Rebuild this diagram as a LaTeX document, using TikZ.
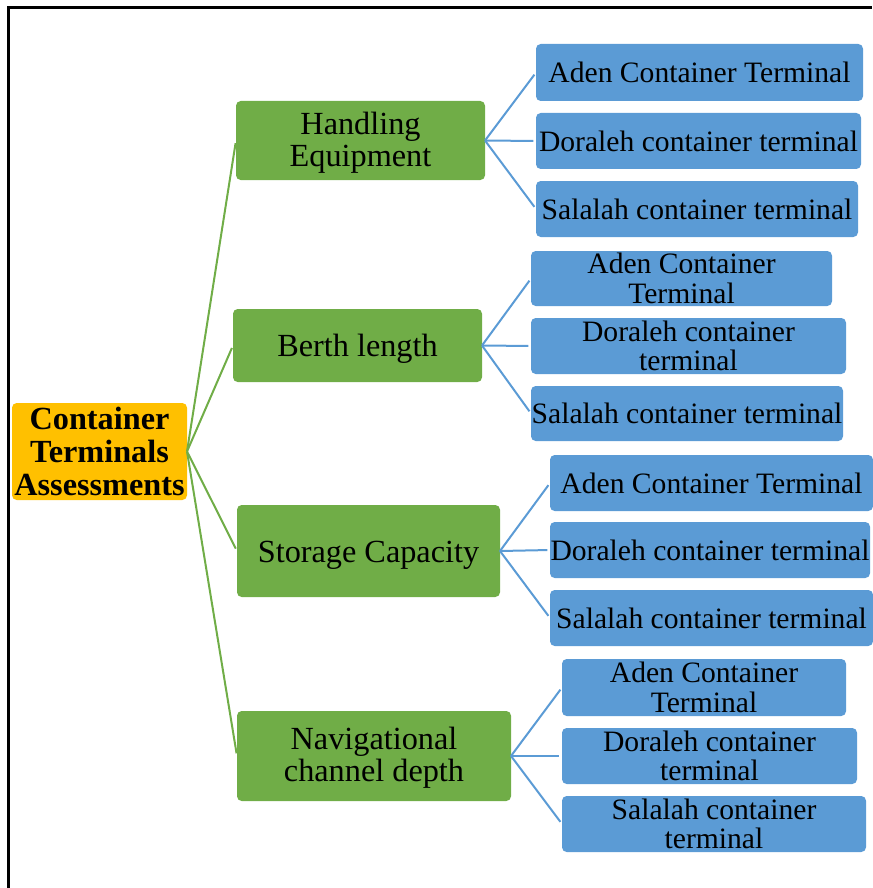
\documentclass[tikz,border=0pt]{standalone}
\usepackage{fontspec}
\setmainfont{Liberation Serif}
\definecolor{rootc}{HTML}{FFC000}
\definecolor{catc}{HTML}{70AD47}
\definecolor{leafc}{HTML}{5B9BD5}
\begin{document}
\begin{tikzpicture}[x=0.75pt,y=-0.75pt,
  base/.style={rounded corners=3.5pt, inner sep=0pt, outer sep=0pt, align=center, text=black},
  rootbox/.style={base, fill=rootc, font=\fontsize{24.2}{24.75}\selectfont\bfseries},
  catbox/.style={base, fill=catc, font=\fontsize{24.2}{24}\selectfont,
    execute at begin node={\rule{0pt}{22pt}}},
  cattwo/.style={base, fill=catc, font=\fontsize{24.2}{24}\selectfont,
    execute at begin node={\rule{0pt}{23pt}}, text depth=2pt},
  leafbox/.style={base, fill=leafc, font=\fontsize{22.2}{22}\selectfont},
  gline/.style={draw=catc, line width=1.5pt, shorten >=2pt},
  bline/.style={draw=leafc, line width=1.5pt, shorten >=2pt},
  frame/.style={draw=black, line width=2.25pt}]
\useasboundingbox (0,0) rectangle (872,888);
\coordinate (fb) at (8.5,888);
\coordinate (fc) at (8.5,7.5);
\coordinate (fr) at (872,7.5);
\draw[frame] (fb) -- (fc) -- (fr);

% root
\node[rootbox, minimum width=175*0.75pt, minimum height=97*0.75pt] (root) at (99.5,451.5) {Container\\Terminals\\Assessments};

% categories
\node[cattwo, minimum width=249*0.75pt, minimum height=79*0.75pt] (c1) at (360.5,140.5) {Handling\\Equipment};
\node[catbox, minimum width=249*0.75pt, minimum height=73*0.75pt] (c2) at (357.5,345.5) {Berth length};
\node[catbox, minimum width=263*0.75pt, minimum height=92*0.75pt] (c3) at (368.5,551) {Storage Capacity};
\node[cattwo, minimum width=274*0.75pt, minimum height=90*0.75pt] (c4) at (374,756) {Navigational\\channel depth};

% group 1
\node[leafbox, minimum width=327*0.75pt, minimum height=57*0.75pt] (a1) at (699.5,72.5) {Aden Container Terminal};
\node[leafbox, minimum width=325*0.75pt, minimum height=56*0.75pt] (b1) at (698.5,141) {Doraleh container terminal};
\node[leafbox, minimum width=322*0.75pt, minimum height=56*0.75pt] (s1) at (697,209) {Salalah container terminal};
% group 2
\node[leafbox, minimum width=301*0.75pt, minimum height=55*0.75pt] (a2) at (681.5,278.5) {Aden Container\\Terminal};
\node[leafbox, minimum width=315*0.75pt, minimum height=56*0.75pt] (b2) at (688.5,346) {Doraleh container\\terminal};
\node[leafbox, minimum width=312*0.75pt, minimum height=55*0.75pt] (s2) at (687,413.5) {Salalah container terminal};
% group 3
\node[leafbox, minimum width=323*0.75pt, minimum height=56*0.75pt] (a3) at (711.5,483) {Aden Container Terminal};
\node[leafbox, minimum width=320*0.75pt, minimum height=56*0.75pt] (b3) at (710,550) {Doraleh container terminal};
\node[leafbox, minimum width=323*0.75pt, minimum height=56*0.75pt] (s3) at (711.5,618) {Salalah container terminal};
% group 4
\node[leafbox, minimum width=284*0.75pt, minimum height=57*0.75pt] (a4) at (704,687.5) {Aden Container\\Terminal};
\node[leafbox, minimum width=295*0.75pt, minimum height=56*0.75pt] (b4) at (709.5,756) {Doraleh container\\terminal};
\node[leafbox, minimum width=304*0.75pt, minimum height=56*0.75pt] (s4) at (714,824) {Salalah container\\terminal};

% connectors
\foreach \c in {c1,c2,c3,c4} \draw[gline] (root.east) -- (\c.west);
\foreach \g in {1,2,3,4} {
  \foreach \l in {a,b,s} \draw[bline] (c\g.east) -- (\l\g.west);
}
\end{tikzpicture}
\end{document}
